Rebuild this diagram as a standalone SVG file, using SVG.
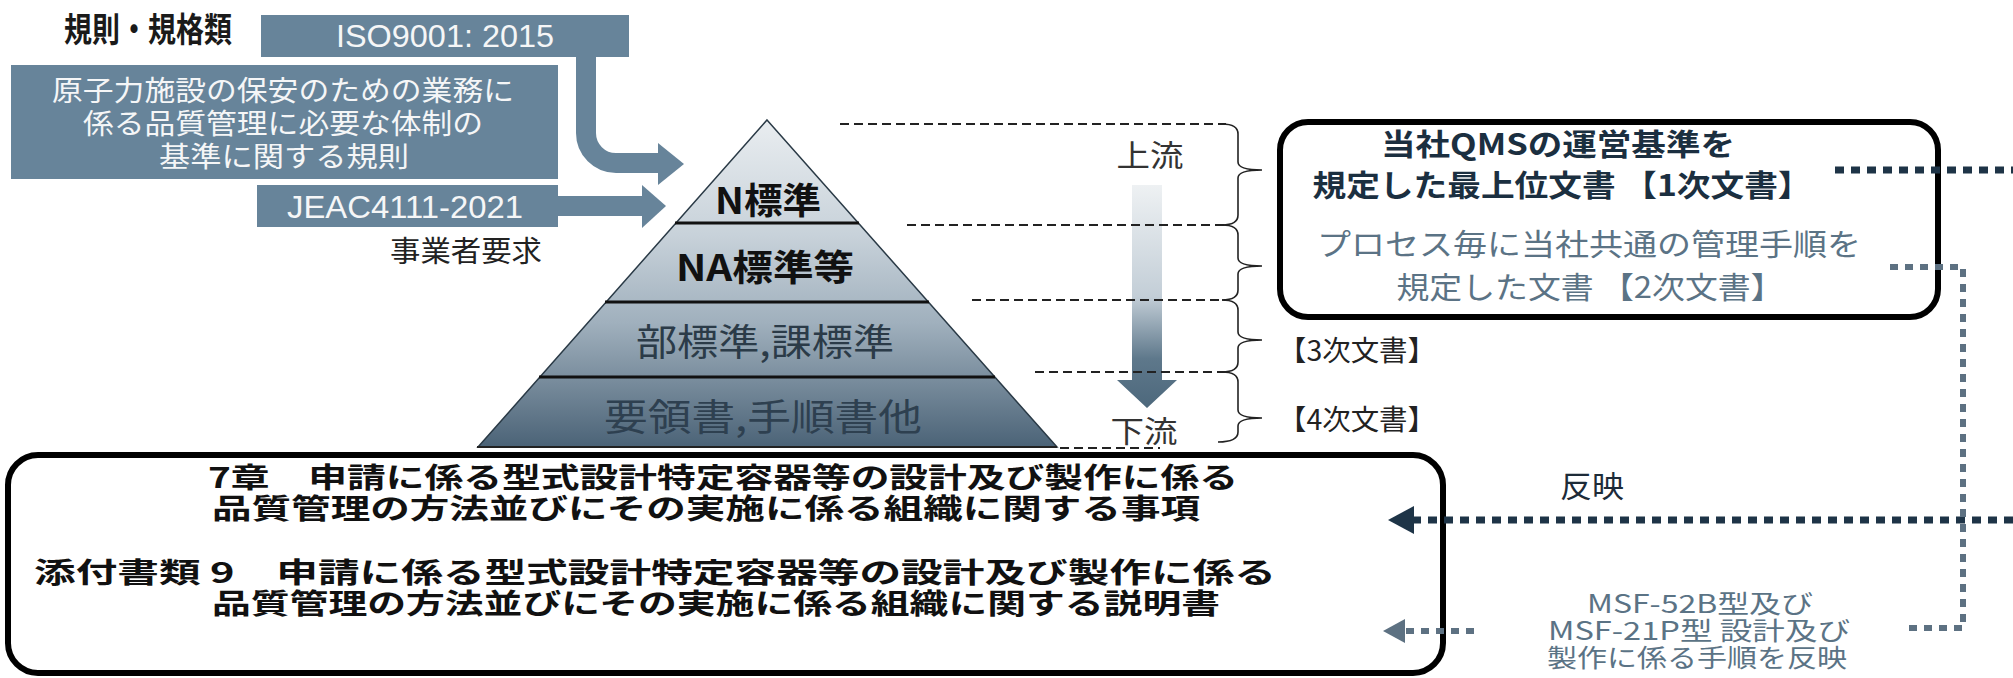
<svg xmlns="http://www.w3.org/2000/svg" width="2013" height="678" viewBox="0 0 2013 678">
<defs>
<style>
text{font-family:"Noto Sans CJK JP","Noto Sans",sans-serif;}
.lat{font-family:"Liberation Sans","Noto Sans CJK JP",sans-serif;}
.sbox{fill:#67849a;}
.wt{fill:#f5f6f7;}
.dash{stroke:#222;stroke-width:2;stroke-dasharray:9 5;fill:none;}
.brace{stroke:#222;stroke-width:1.6;fill:none;}
.tier{stroke:#111;stroke-width:3;}
.dk{fill:#1b2f40;}
.st{fill:#5b7385;}
.dotd{stroke:#1e3447;stroke-width:7;stroke-dasharray:9 7;fill:none;}
.dots{stroke:#5d7182;stroke-width:6;stroke-dasharray:8 7;fill:none;}
.frame{fill:#fff;stroke:#000;stroke-width:6;}
.big{font-size:28px;font-weight:bold;fill:#111;}
.rule{font-size:28px;fill:#f5f6f7;}
.head{font-size:34px;font-weight:bold;fill:#1a1a1a;}
</style>
<linearGradient id="pyr" x1="0" y1="120" x2="0" y2="447" gradientUnits="userSpaceOnUse">
<stop offset="0" stop-color="#e9edf0"/>
<stop offset="0.35" stop-color="#c8d2da"/>
<stop offset="0.62" stop-color="#a0b0bd"/>
<stop offset="1" stop-color="#4b6377"/>
</linearGradient>
<linearGradient id="flow" x1="0" y1="185" x2="0" y2="408" gradientUnits="userSpaceOnUse">
<stop offset="0" stop-color="#eef1f3"/>
<stop offset="0.5" stop-color="#c3ced7"/>
<stop offset="0.78" stop-color="#5e788b"/>
<stop offset="1" stop-color="#4d687c"/>
</linearGradient>
</defs>

<g id="label-rules">
<text class="head" x="64" y="42" textLength="168" lengthAdjust="spacingAndGlyphs">規則・規格類</text>
</g>

<g id="node-iso">
<rect class="sbox" x="261" y="15" width="368" height="42"/>
<text class="lat wt" x="445" y="47" font-size="32" text-anchor="middle" textLength="218" lengthAdjust="spacingAndGlyphs">ISO9001: 2015</text>
</g>

<g id="node-rule">
<rect class="sbox" x="11" y="65" width="547" height="114"/>
<text class="rule" x="283" y="101" text-anchor="middle" textLength="462" lengthAdjust="spacingAndGlyphs">原子力施設の保安のための業務に</text>
<text class="rule" x="283" y="134" text-anchor="middle" textLength="400" lengthAdjust="spacingAndGlyphs">係る品質管理に必要な体制の</text>
<text class="rule" x="284" y="167" text-anchor="middle" textLength="250" lengthAdjust="spacingAndGlyphs">基準に関する規則</text>
</g>

<g id="node-jeac">
<rect class="sbox" x="257" y="185" width="301" height="42"/>
<text class="lat wt" x="405" y="218" font-size="32" text-anchor="middle" textLength="236" lengthAdjust="spacingAndGlyphs">JEAC4111-2021</text>
</g>

<g id="label-operator">
<text x="390" y="262" font-size="29" fill="#222" textLength="152" lengthAdjust="spacingAndGlyphs">事業者要求</text>
</g>

<g id="node-pyramid">
<polygon points="767,120 1057,447 478,447" fill="url(#pyr)" stroke="#2a3a46" stroke-width="1.5"/>
<line class="tier" x1="675" y1="223" x2="859" y2="223"/>
<line class="tier" x1="605" y1="302" x2="929" y2="302"/>
<line class="tier" x1="539" y1="377" x2="995" y2="377"/>
<line x1="477" y1="447" x2="1057" y2="447" stroke="#222" stroke-width="2"/>
<text x="768" y="214" font-size="36" font-weight="bold" fill="#111" text-anchor="middle" textLength="106" lengthAdjust="spacingAndGlyphs">N標準</text>
<text x="765" y="281" font-size="36" font-weight="bold" fill="#111" text-anchor="middle" textLength="178" lengthAdjust="spacingAndGlyphs">NA標準等</text>
<text x="765" y="356" font-size="37" fill="#2b3b48" text-anchor="middle" textLength="258" lengthAdjust="spacingAndGlyphs">部標準,課標準</text>
<text x="763" y="431" font-size="37" fill="#2e4050" text-anchor="middle" textLength="318" lengthAdjust="spacingAndGlyphs">要領書,手順書他</text>
</g>

<g id="node-flow">
<text x="1150" y="166" font-size="30" fill="#333" text-anchor="middle" textLength="67" lengthAdjust="spacingAndGlyphs">上流</text>
<path d="M1132,185 H1162 V380 H1177 L1147,408 L1117,380 H1132 Z" fill="url(#flow)"/>
<text x="1144" y="442" font-size="30" fill="#333" text-anchor="middle" textLength="67" lengthAdjust="spacingAndGlyphs">下流</text>
</g>

<g id="levels">
<line class="dash" x1="840" y1="124" x2="1226" y2="124"/>
<line class="dash" x1="907" y1="225" x2="1226" y2="225"/>
<line class="dash" x1="972" y1="300" x2="1226" y2="300"/>
<line class="dash" x1="1035" y1="372" x2="1226" y2="372"/>
<line class="dash" x1="1060" y1="448" x2="1160" y2="448"/>
<path class="brace" d="M1222,124 Q1238,124 1238,134 V162 Q1238,170 1262,170 Q1238,170 1238,178 V215 Q1238,225 1222,225"/>
<path class="brace" d="M1222,225 Q1238,225 1238,235 V258 Q1238,266 1262,266 Q1238,266 1238,274 V290 Q1238,300 1222,300"/>
<path class="brace" d="M1222,300 Q1238,300 1238,310 V332 Q1238,340 1262,340 Q1238,340 1238,348 V362 Q1238,372 1222,372"/>
<path class="brace" d="M1222,372 Q1238,372 1238,382 V410 Q1238,418 1262,418 Q1238,418 1238,426 V432 Q1238,442 1218,442"/>
</g>

<g id="node-qms">
<rect class="frame" x="1280" y="122" width="658" height="195" rx="28"/>
<text class="dk" x="1558" y="155" font-size="30" font-weight="bold" text-anchor="middle" textLength="354" lengthAdjust="spacingAndGlyphs">当社QMSの運営基準を</text>
<text class="dk" x="1562" y="196" font-size="30" font-weight="bold" text-anchor="middle" textLength="499" lengthAdjust="spacingAndGlyphs">規定した最上位文書 【1次文書】</text>
<text class="st" x="1589" y="255" font-size="30" text-anchor="middle" textLength="544" lengthAdjust="spacingAndGlyphs">プロセス毎に当社共通の管理手順を</text>
<text class="st" x="1590" y="298" font-size="30" text-anchor="middle" textLength="387" lengthAdjust="spacingAndGlyphs">規定した文書 【2次文書】</text>
</g>

<g id="label-3rd">
<text x="1278" y="361" font-size="28" fill="#222" textLength="158" lengthAdjust="spacingAndGlyphs">【3次文書】</text>
</g>
<g id="label-4th">
<text x="1278" y="430" font-size="28" fill="#222" textLength="158" lengthAdjust="spacingAndGlyphs">【4次文書】</text>
</g>

<g id="node-application">
<rect class="frame" x="8" y="455" width="1435" height="218" rx="30"/>
<text class="big" x="208" y="488" textLength="1030" lengthAdjust="spacingAndGlyphs">7章　申請に係る型式設計特定容器等の設計及び製作に係る</text>
<text class="big" x="212" y="519" textLength="988" lengthAdjust="spacingAndGlyphs">品質管理の方法並びにその実施に係る組織に関する事項</text>
<text class="big" x="34" y="583" textLength="1242" lengthAdjust="spacingAndGlyphs">添付書類 9　申請に係る型式設計特定容器等の設計及び製作に係る</text>
<text class="big" x="212" y="614" textLength="1008" lengthAdjust="spacingAndGlyphs">品質管理の方法並びにその実施に係る組織に関する説明書</text>
</g>

<g id="label-reflect">
<text x="1560" y="497" font-size="30" fill="#1d2b38" textLength="64" lengthAdjust="spacingAndGlyphs">反映</text>
</g>

<g id="label-msf">
<text class="st" x="1700" y="613" font-size="25" text-anchor="middle" textLength="226" lengthAdjust="spacingAndGlyphs">MSF-52B型及び</text>
<text class="st" x="1699" y="640" font-size="25" text-anchor="middle" textLength="302" lengthAdjust="spacingAndGlyphs">MSF-21P型 設計及び</text>
<text class="st" x="1697" y="667" font-size="25" text-anchor="middle" textLength="300" lengthAdjust="spacingAndGlyphs">製作に係る手順を反映</text>
</g>

<g id="connectors">
<path d="M586,57 V133 A30,30 0 0 0 616,163 H660" fill="none" stroke="#67849a" stroke-width="20"/>
<polygon points="658,143 684,164 658,185" fill="#67849a"/>
<rect x="557" y="196" width="86" height="20" fill="#67849a"/>
<polygon points="642,185 666,206 642,228" fill="#67849a"/>
<path class="dotd" d="M1835,170 H2013"/>
<path class="dotd" d="M2013,520 H1412"/>
<polygon points="1388,520 1414,506 1414,534" fill="#1e3447"/>
<path class="dots" d="M1890,267 H1963 V628 H1905"/>
<path class="dots" d="M1474,631 H1405"/>
<polygon points="1383,631 1405,619 1405,643" fill="#5d7182"/>
</g>
</svg>
